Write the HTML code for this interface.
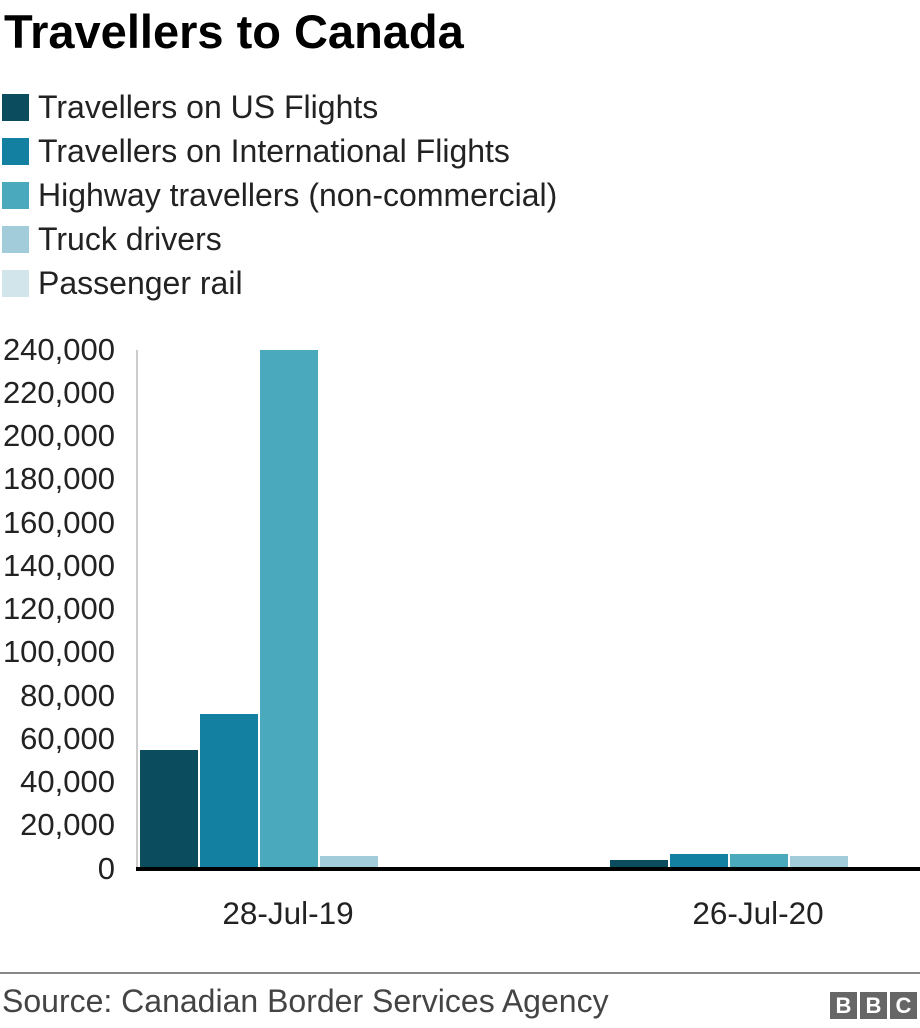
<!DOCTYPE html>
<html><head><meta charset="utf-8"><style>
body{margin:0;width:920px;height:1028px;background:#fff;font-family:"Liberation Sans",Arial,sans-serif;color:#222;position:relative;overflow:hidden}
.a{position:absolute;line-height:1;white-space:nowrap}
.t{left:4px;top:8px;font-size:47px;font-weight:bold;color:#000}
.lg{left:2px;font-size:32px;color:#222}
.lg i{display:inline-block;width:27px;height:27px;vertical-align:-3px;margin-right:9px}
.yl{right:805px;font-size:31px;text-align:right;color:#222}
.b{position:absolute}
.x{font-size:31.5px;width:200px;text-align:center}
</style></head><body>
<div class="a t">Travellers to Canada</div>
<div class="a lg" style="top:91px"><i style="background:#0b4c5f"></i>Travellers on US Flights</div>
<div class="a lg" style="top:135px"><i style="background:#1380a1"></i>Travellers on International Flights</div>
<div class="a lg" style="top:179px"><i style="background:#4ba9be"></i>Highway travellers (non-commercial)</div>
<div class="a lg" style="top:223px"><i style="background:#a2ccda"></i>Truck drivers</div>
<div class="a lg" style="top:267px"><i style="background:#d1e5ea"></i>Passenger rail</div>

<div class="a yl" style="top:334px">240,000</div>
<div class="a yl" style="top:377px">220,000</div>
<div class="a yl" style="top:420px">200,000</div>
<div class="a yl" style="top:463px">180,000</div>
<div class="a yl" style="top:507px">160,000</div>
<div class="a yl" style="top:550px">140,000</div>
<div class="a yl" style="top:593px">120,000</div>
<div class="a yl" style="top:636px">100,000</div>
<div class="a yl" style="top:680px">80,000</div>
<div class="a yl" style="top:723px">60,000</div>
<div class="a yl" style="top:766px">40,000</div>
<div class="a yl" style="top:809px">20,000</div>
<div class="a yl" style="top:853px">0</div>

<div class="b" style="left:136px;top:350px;width:2px;height:518px;background:#ccc"></div>
<div class="b" style="left:140px;top:750px;width:58px;height:118px;background:#0b4c5f"></div>
<div class="b" style="left:200px;top:714px;width:58px;height:154px;background:#1380a1"></div>
<div class="b" style="left:260px;top:350px;width:58px;height:518px;background:#4ba9be"></div>
<div class="b" style="left:320px;top:856px;width:58px;height:12px;background:#a2ccda"></div>
<div class="b" style="left:610px;top:860px;width:58px;height:8px;background:#0b4c5f"></div>
<div class="b" style="left:670px;top:854px;width:58px;height:14px;background:#1380a1"></div>
<div class="b" style="left:730px;top:854px;width:58px;height:14px;background:#4ba9be"></div>
<div class="b" style="left:790px;top:856px;width:58px;height:12px;background:#a2ccda"></div>
<div class="b" style="left:136px;top:867px;width:784px;height:4px;background:#000"></div>

<div class="a x" style="left:188px;top:898px">28-Jul-19</div>
<div class="a x" style="left:658px;top:898px">26-Jul-20</div>

<div class="b" style="left:0;top:972px;width:920px;height:2px;background:#888"></div>
<div class="a" style="left:2px;top:985px;font-size:32px;color:#444">Source: Canadian Border Services Agency</div>
<div class="a" style="left:830px;top:992px;display:flex;gap:3px">
<div style="width:27px;height:27px;background:#666;color:#fff;font-weight:bold;font-size:22px;text-align:center;line-height:27px">B</div>
<div style="width:27px;height:27px;background:#666;color:#fff;font-weight:bold;font-size:22px;text-align:center;line-height:27px">B</div>
<div style="width:27px;height:27px;background:#666;color:#fff;font-weight:bold;font-size:22px;text-align:center;line-height:27px">C</div>
</div>
</body></html>
